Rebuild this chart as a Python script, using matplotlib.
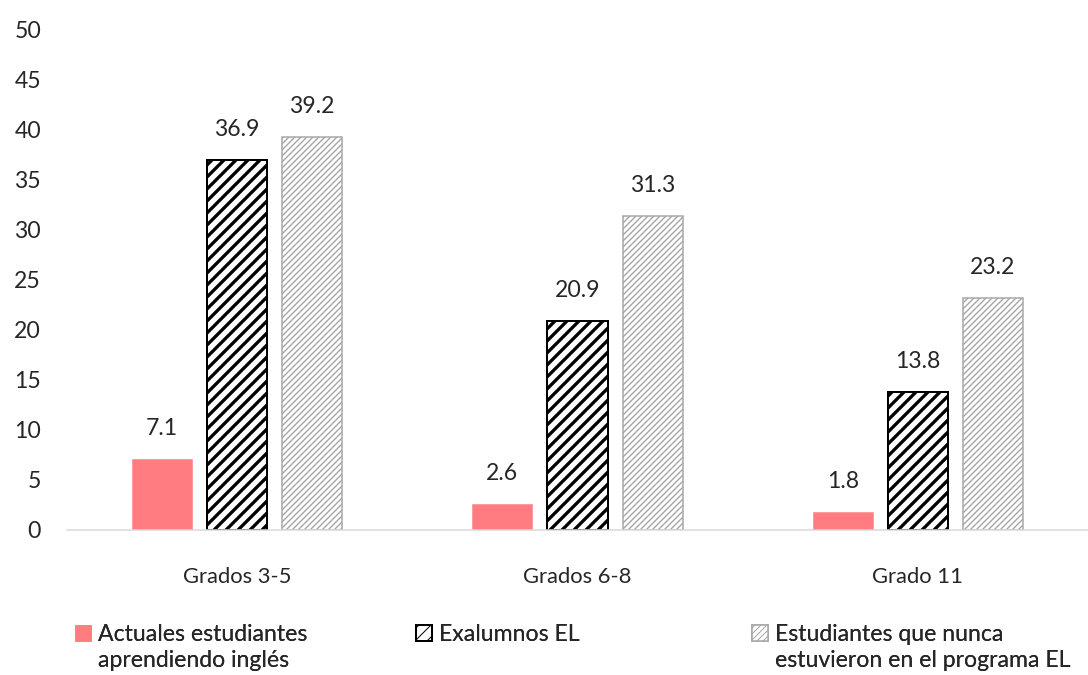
import matplotlib
matplotlib.use("Agg")
import matplotlib.pyplot as plt
from matplotlib.patches import Rectangle
from matplotlib.legend_handler import HandlerPatch
import numpy as np

categories = ["Grados 3-5", "Grados 6-8", "Grado 11"]
series_names = ["Actuales estudiantes\naprendiendo inglés",
                "Exalumnos EL",
                "Estudiantes que nunca\nestuvieron en el programa EL"]
actuales = [7.1, 2.6, 1.8]
exalumnos = [36.9, 20.9, 13.8]
nunca = [39.2, 31.3, 23.2]
y_ticks = [0, 5, 10, 15, 20, 25, 30, 35, 40, 45, 50]

DPI = 72
FS = 23
LS = 1.32
plt.rcParams['font.family'] = ['Lato', 'DejaVu Sans']
fig = plt.figure(figsize=(1088 / DPI, 675 / DPI), dpi=DPI)
ax = fig.add_axes([67 / 1088, 145 / 675, 1 - 67 / 1088, (530 - 29) / 675])

x = np.arange(len(categories))
w = 60 / 340
step = 75 / 340

styles = [
    dict(facecolor="#FF7C80", edgecolor="#FF7C80", hatch=None, hlw=1.0, lw=0.5),
    dict(facecolor="white", edgecolor="black", hatch="//", hlw=3.3, lw=2.0),
    dict(facecolor="white", edgecolor="#A6A6A6", hatch="////", hlw=1.4, lw=1.5),
]
all_vals = [actuales, exalumnos, nunca]
handles = []
for i, (vals, st, name) in enumerate(zip(all_vals, styles, series_names)):
    with plt.rc_context({"hatch.linewidth": st["hlw"]}):
        bars = ax.bar(x + (i - 1) * step, vals, w, facecolor=st["facecolor"],
                      edgecolor=st["edgecolor"], hatch=st["hatch"],
                      linewidth=st["lw"], label=name)
    for b in bars:
        if hasattr(b, "set_hatch_linewidth"):
            b.set_hatch_linewidth(st["hlw"])
    handles.append(bars[0])
    for xi, v in zip(x + (i - 1) * step, vals):
        ax.annotate(f"{v:.1f}", (xi, v), xytext=(0, 20), textcoords="offset points",
                    ha="center", va="bottom", fontsize=FS, color="#262626")

ax.set_xlim(-0.5, 2.5)
ax.set_ylim(0, 50)
ax.set_yticks(y_ticks)
ax.set_xticks(x)
ax.set_xticklabels(categories)
ax.tick_params(axis="y", length=0, labelsize=FS, labelcolor="#262626", pad=26)
ax.tick_params(axis="x", length=0, labelsize=FS - 1, labelcolor="#262626", pad=37)
for s in ["top", "right", "left"]:
    ax.spines[s].set_visible(False)
ax.spines["bottom"].set_color("#D9D9D9")
ax.spines["bottom"].set_linewidth(1.5)


def make_patch(n_lines):
    def f(legend, orig_handle, xdescent, ydescent, width, height, fontsize):
        shift = 0.5 * LS * fontsize * (n_lines - 1)
        return Rectangle((-xdescent, -ydescent + shift), width, width)
    return f


legend_x = [75 / 1088, 416 / 1088, 752 / 1088]
for h, lx, name in zip(handles, legend_x, series_names):
    n = name.count("\n") + 1
    leg = fig.legend([h], [name], loc="upper left", bbox_to_anchor=(lx, 1 - 624 / 675),
                     frameon=False, fontsize=FS, handlelength=0.7, handleheight=0.7,
                     handletextpad=0.3, borderaxespad=0, borderpad=0,
                     handler_map={Rectangle: HandlerPatch(patch_func=make_patch(n))})
    for t in leg.get_texts():
        t.set_color("#262626")
        t.set_linespacing(LS)
    fig.add_artist(leg)

fig.savefig("out.png", dpi=DPI)
